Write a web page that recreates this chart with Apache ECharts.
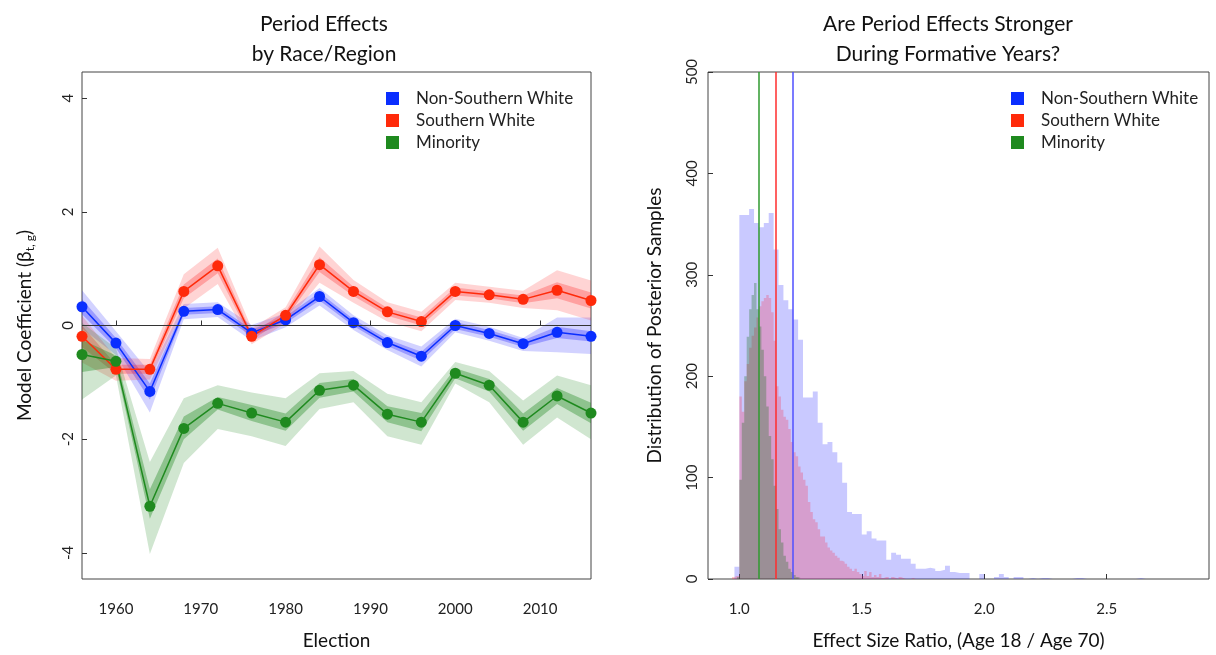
<!DOCTYPE html>
<html>
<head>
<meta charset="utf-8">
<script src="https://cdn.jsdelivr.net/npm/echarts@6/dist/echarts.min.js"></script>
<style>
html, body { margin: 0; padding: 0; background: #fff; }
#main { width: 1216px; height: 655px; }
</style>
</head>
<body>
<div id="main"></div>
<script>
var FONT = 'Lato, "DejaVu Sans", sans-serif';

// left panel: period effects by election year
var years = [1956, 1960, 1964, 1968, 1972, 1976, 1980, 1984, 1988, 1992, 1996, 2000, 2004, 2008, 2012, 2016];
var yearTicks = [1960, 1970, 1980, 1990, 2000, 2010];
var coefTicks = [-4, -2, 0, 2, 4];

var nswMean    = [0.33, -0.31, -1.16, 0.25, 0.28, -0.13, 0.10, 0.51, 0.05, -0.30, -0.54, 0.00, -0.14, -0.32, -0.12, -0.19];
var nswOuterLo = [-0.05, -0.52, -1.53, 0.11, 0.15, -0.27, -0.03, 0.35, -0.08, -0.43, -0.72, -0.12, -0.27, -0.45, -0.47, -0.50];
var nswOuterHi = [0.62, -0.10, -0.83, 0.38, 0.41, 0.01, 0.22, 0.66, 0.18, -0.17, -0.37, 0.12, -0.02, -0.22, 0.14, 0.14];
var nswInnerLo = [0.20, -0.40, -1.30, 0.19, 0.22, -0.19, 0.04, 0.44, -0.01, -0.36, -0.62, -0.06, -0.20, -0.38, -0.22, -0.28];
var nswInnerHi = [0.46, -0.22, -1.02, 0.31, 0.34, -0.07, 0.16, 0.58, 0.11, -0.24, -0.46, 0.06, -0.08, -0.26, -0.02, -0.10];

var swMean    = [-0.19, -0.77, -0.77, 0.60, 1.05, -0.19, 0.18, 1.07, 0.60, 0.24, 0.07, 0.60, 0.54, 0.46, 0.62, 0.44];
var swOuterLo = [-0.65, -0.97, -0.95, 0.30, 0.73, -0.33, 0.04, 0.75, 0.40, 0.07, -0.10, 0.45, 0.40, 0.31, 0.27, 0.09];
var swOuterHi = [0.17, -0.57, -0.59, 0.90, 1.37, -0.05, 0.32, 1.39, 0.80, 0.41, 0.24, 0.75, 0.68, 0.61, 0.97, 0.79];
var swInnerLo = [-0.38, -0.85, -0.85, 0.48, 0.92, -0.25, 0.12, 0.94, 0.52, 0.17, 0.00, 0.53, 0.48, 0.39, 0.48, 0.30];
var swInnerHi = [0.00, -0.69, -0.69, 0.72, 1.18, -0.13, 0.24, 1.20, 0.68, 0.31, 0.14, 0.67, 0.60, 0.53, 0.76, 0.58];

var minMean    = [-0.51, -0.63, -3.18, -1.81, -1.37, -1.54, -1.70, -1.14, -1.05, -1.56, -1.70, -0.84, -1.05, -1.70, -1.24, -1.54];
var minOuterLo = [-1.30, -0.88, -4.02, -2.42, -1.82, -1.95, -2.12, -1.47, -1.35, -1.95, -2.10, -1.02, -1.35, -2.10, -1.62, -2.00];
var minOuterHi = [0.05, -0.40, -2.40, -1.28, -1.05, -1.18, -1.28, -0.84, -0.80, -1.20, -1.35, -0.64, -0.80, -1.32, -0.88, -1.05];
var minInnerLo = [-0.82, -0.73, -3.40, -2.00, -1.48, -1.68, -1.85, -1.27, -1.16, -1.70, -1.86, -0.93, -1.16, -1.85, -1.38, -1.72];
var minInnerHi = [-0.25, -0.53, -2.88, -1.60, -1.26, -1.40, -1.55, -1.01, -0.94, -1.42, -1.54, -0.75, -0.94, -1.55, -1.10, -1.36];

// right panel: posterior sample histograms (bin start, bin width, counts)
var nswBinStart = 0.98, nswBinWidth = 0.02;
var nswCounts = [12, 359, 359, 365, 351, 347, 351, 361, 325, 290, 275, 266, 256, 236, 179, 179, 185, 154, 133, 135,
  125, 115, 95, 66, 64, 64, 44, 47, 40, 38, 38, 19, 26, 24, 20, 20, 15, 10, 10, 11,
  10, 8, 9, 13, 7, 6, 6, 6, 0, 0, 5, 0, 0, 2, 5, 2, 0, 2, 2, 0,
  1, 0, 1, 1, 0, 0, 0, 0, 0, 1, 1, 0, 0, 0, 0, 0, 0, 0, 0, 0,
  0, 0, 1, 0, 0, 0, 0, 0, 0, 0, 0, 0, 0, 1];
var swBinStart = 0.97, swBinWidth = 0.01;
var swCounts = [2, 3, 3, 180, 165, 195, 212, 228, 240, 248, 258, 269, 274, 277, 280, 277, 263, 235, 190, 180,
  167, 160, 157, 148, 135, 125, 121, 111, 105, 98, 92, 76, 66, 59, 56, 49, 42, 42, 36, 31,
  28, 26, 23, 21, 18, 17, 15, 12, 10, 8, 10, 7, 5, 3, 8, 3, 7, 2, 4, 2,
  5, 1, 2, 2, 0, 2, 1, 0, 2, 1, 0, 0, 0, 1, 0, 1];
var minBinStart = 0.99, minBinWidth = 0.01;
var minCounts = [2, 98, 154, 200, 239, 266, 280, 292, 266, 249, 226, 200, 170, 141, 118, 92, 69, 49, 36, 23,
  17, 10, 7, 4, 2, 1];
var ratioMeans = [1.22, 1.146, 1.077]; // nsw, sw, minority
var ratioTicks = [1.0, 1.5, 2.0, 2.5];
var countTicks = [0, 100, 200, 300, 400, 500];

var groups = ['Non-Southern White', 'Southern White', 'Minority'];
var solid = ['#0a2eff', '#ff2a0a', '#1f8a1f'];

var chart = echarts.init(document.getElementById('main'));

function pairs(ys) {
  return years.map(function (y, i) { return [y, ys[i]]; });
}
// one polygon per band, drawn through the axis scales
function bandSeries(lo, hi, color) {
  return {
    type: 'custom', xAxisIndex: 0, yAxisIndex: 0, silent: true,
    data: years.map(function (y, i) { return [y, lo[i], hi[i]]; }),
    encode: { x: 0, y: [1, 2] },
    renderItem: function (params, api) {
      if (params.dataIndex !== 0) return null;
      var upper = [], lower = [];
      for (var i = 0; i < years.length; i++) {
        upper.push(api.coord([years[i], hi[i]]));
        lower.unshift(api.coord([years[i], lo[i]]));
      }
      return { type: 'polygon', shape: { points: upper.concat(lower) }, style: { fill: color } };
    }
  };
}
function lineSeries(name, ys, color) {
  return {
    name: name, type: 'line', xAxisIndex: 0, yAxisIndex: 0, data: pairs(ys),
    symbol: 'circle', symbolSize: 11, lineStyle: { color: color, width: 1.5 },
    itemStyle: { color: color }
  };
}
function histSeries(name, start, width, counts, fill, mean, lineColor) {
  var d = counts.map(function (c, i) { return [start + i * width, c]; });
  d.push([start + counts.length * width, 0]);
  return {
    name: name, type: 'line', xAxisIndex: 1, yAxisIndex: 1, step: 'end', data: d,
    symbol: 'none', lineStyle: { opacity: 0 }, areaStyle: { color: fill, opacity: 1 },
    markLine: {
      silent: true, symbol: 'none', label: { show: false },
      lineStyle: { color: lineColor, width: 1.5, type: 'solid' },
      data: [{ xAxis: mean }]
    }
  };
}

var series = [];
series.push(bandSeries(nswOuterLo, nswOuterHi, 'rgba(30,30,255,0.2)'));
series.push(bandSeries(nswInnerLo, nswInnerHi, 'rgba(30,30,255,0.3)'));
var nswLine = lineSeries(groups[0], nswMean, solid[0]);
nswLine.markLine = {
  silent: true, symbol: 'none', label: { show: false },
  lineStyle: { color: '#333', width: 1, type: 'solid' }, data: [{ yAxis: 0 }]
};
series.push(nswLine);
series.push(bandSeries(swOuterLo, swOuterHi, 'rgba(255,40,40,0.2)'));
series.push(bandSeries(swInnerLo, swInnerHi, 'rgba(255,40,40,0.3)'));
series.push(lineSeries(groups[1], swMean, solid[1]));
series.push(bandSeries(minOuterLo, minOuterHi, 'rgba(20,130,20,0.2)'));
series.push(bandSeries(minInnerLo, minInnerHi, 'rgba(20,130,20,0.35)'));
series.push(lineSeries(groups[2], minMean, solid[2]));

series.push(histSeries(groups[0], nswBinStart, nswBinWidth, nswCounts, 'rgba(40,40,255,0.25)', ratioMeans[0], '#4f4fff'));
series.push(histSeries(groups[1], swBinStart, swBinWidth, swCounts, 'rgba(255,30,60,0.25)', ratioMeans[1], '#ff2d2d'));
series.push(histSeries(groups[2], minBinStart, minBinWidth, minCounts, 'rgba(20,110,20,0.3)', ratioMeans[2], '#2f9a2f'));

var tickStyle = { inside: true, length: 5, lineStyle: { color: '#333' } };
var labelStyle = { fontFamily: FONT, fontSize: 15, color: '#222' };
var nameStyle = { fontFamily: FONT, fontSize: 19, color: '#111' };

function legendFor(left) {
  return {
    left: left, top: 85, orient: 'vertical', icon: 'rect',
    itemWidth: 13, itemHeight: 13, itemGap: 5,
    selectedMode: false,
    textStyle: { fontFamily: FONT, fontSize: 17, color: '#222', padding: [0, 0, 0, 12] },
    data: groups.map(function (g, i) { return { name: g, itemStyle: { color: solid[i] } }; })
  };
}

var option = {
  animation: false,
  backgroundColor: '#fff',
  title: [{
    text: 'Period Effects\nby Race/Region', left: 319, top: 4, textAlign: 'center',
    textStyle: { fontFamily: FONT, fontSize: 21, fontWeight: 'normal', color: '#111', lineHeight: 30 }
  }, {
    text: 'Are Period Effects Stronger\nDuring Formative Years?', left: 943, top: 4, textAlign: 'center',
    textStyle: { fontFamily: FONT, fontSize: 21, fontWeight: 'normal', color: '#111', lineHeight: 30 }
  }],
  legend: [legendFor(381), legendFor(1006)],
  grid: [
    { left: 82, top: 72, width: 509, height: 508, show: true, borderColor: '#444', borderWidth: 1, backgroundColor: 'transparent' },
    { left: 708, top: 72, width: 501, height: 508, show: true, borderColor: '#444', borderWidth: 1, backgroundColor: 'transparent' }
  ],
  xAxis: [{
    type: 'value', gridIndex: 0, min: 1956, max: 2016,
    axisLine: { show: false }, splitLine: { show: false },
    axisTick: Object.assign({ customValues: yearTicks }, tickStyle),
    axisLabel: Object.assign({ customValues: yearTicks, margin: 23, formatter: function (v) { return String(v); } }, labelStyle),
    name: 'Election', nameLocation: 'middle', nameGap: 52, nameTextStyle: nameStyle
  }, {
    type: 'value', gridIndex: 1, min: 0.872, max: 2.918,
    axisLine: { show: false }, splitLine: { show: false },
    axisTick: Object.assign({ customValues: ratioTicks }, tickStyle),
    axisLabel: Object.assign({ customValues: ratioTicks, margin: 23, formatter: function (v) { return v.toFixed(1); } }, labelStyle),
    name: 'Effect Size Ratio, (Age 18 / Age 70)', nameLocation: 'middle', nameGap: 52, nameTextStyle: nameStyle
  }],
  yAxis: [{
    type: 'value', gridIndex: 0, min: -4.46, max: 4.46,
    axisLine: { show: false }, splitLine: { show: false },
    axisTick: Object.assign({ customValues: coefTicks }, tickStyle),
    axisLabel: Object.assign({ customValues: coefTicks, rotate: 90, margin: 6 }, labelStyle),
    name: 'Model Coefficient (β{s|t, g})', nameLocation: 'middle', nameGap: 46,
    nameTextStyle: Object.assign({ rich: { s: { fontFamily: FONT, fontSize: 12, color: '#111', padding: [10, 0, 0, 0] } } }, nameStyle)
  }, {
    type: 'value', gridIndex: 1, min: 0, max: 500,
    axisLine: { show: false }, splitLine: { show: false },
    axisTick: Object.assign({ customValues: countTicks }, tickStyle),
    axisLabel: Object.assign({ customValues: countTicks, rotate: 90, margin: 8 }, labelStyle),
    name: 'Distribution of Posterior Samples', nameLocation: 'middle', nameGap: 44, nameTextStyle: nameStyle
  }],
  series: series
};

chart.setOption(option);
</script>
</body>
</html>
